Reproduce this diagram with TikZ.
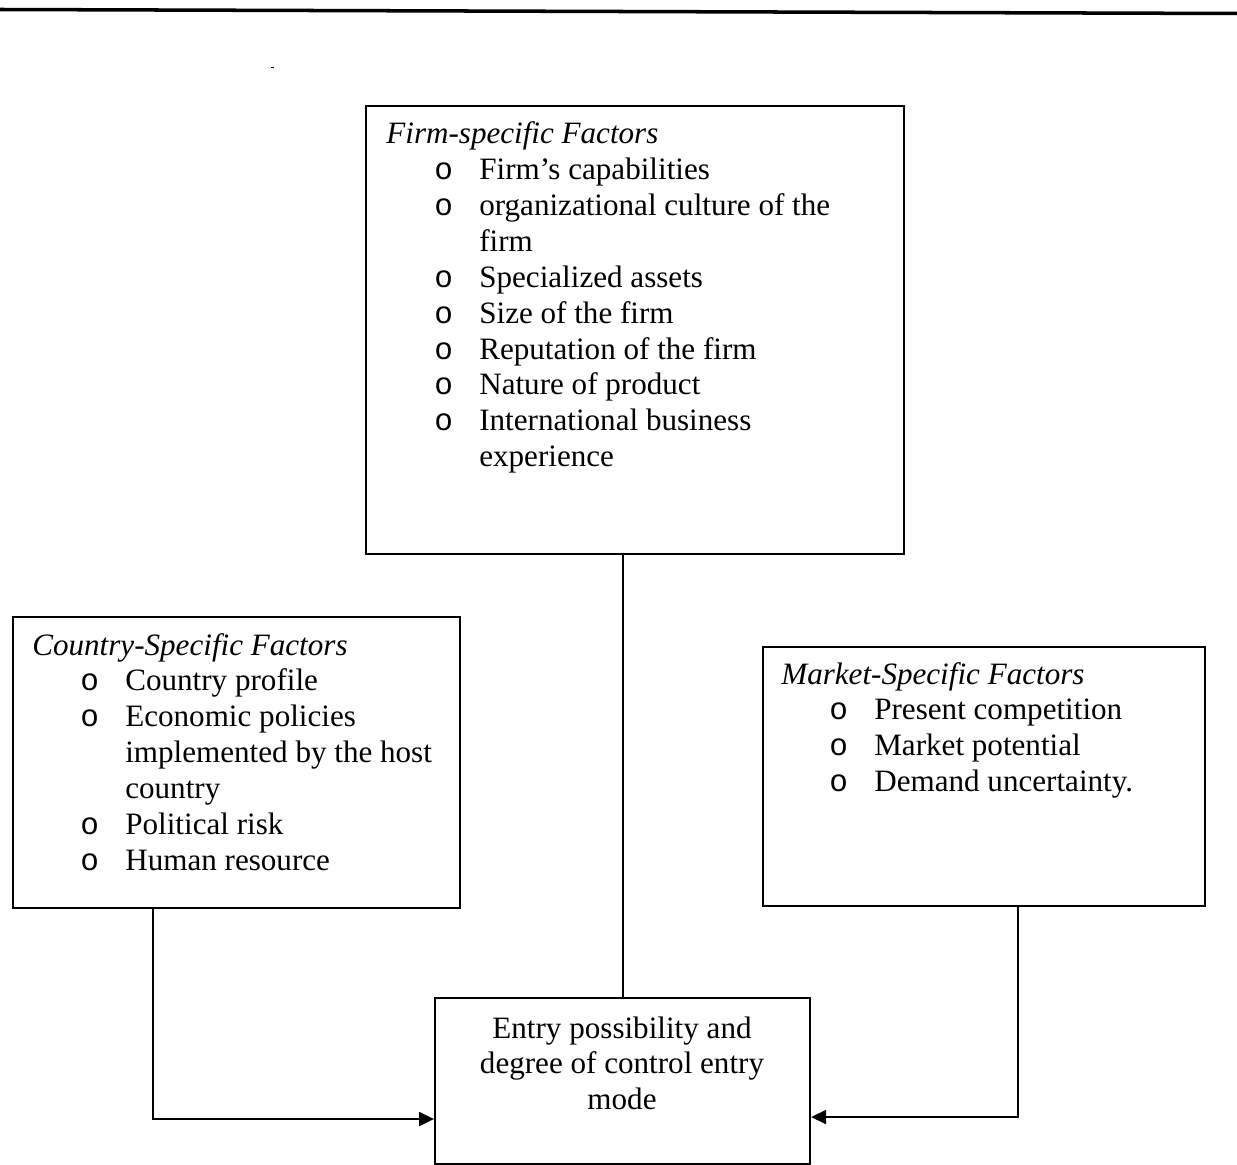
\documentclass[tikz,border=0pt]{standalone}
\usepackage{fontspec}
\setmainfont{Liberation Serif}
\newfontfamily\bulfont{Liberation Mono}
\usetikzlibrary{arrows.meta}

\newcommand{\itm}{\hspace*{0.96cm}\makebox[0.90cm][l]{\bulfont o}}
\newcommand{\cont}{\hspace*{1.86cm}}

\tikzset{
    factorbox/.style={draw, line width=1.2pt, anchor=north west, inner sep=0pt},
    factortxt/.style={anchor=base west, inner sep=0pt, font=\fontsize{17.7pt}{20.4pt}\selectfont},
    link/.style={line width=1.2pt},
    arr/.style={link, -{Triangle[length=0.3cm, width=0.28cm]}}
}

\begin{document}
\begin{tikzpicture}[x=0.02cm, y=-0.02cm]
    \useasboundingbox (0,0) rectangle (1237,1165);

    % Rule at the top
    \draw[line width=2pt] (0,9.5) -- (1237,13.5);
    \draw[line width=0.6pt] (270.5,67.5) -- (274,67.5);

    % Boxes
    \node[factorbox, minimum width={538*0.02cm}, minimum height={448*0.02cm}] (firm) at (365,105) {};
    \node[factorbox, minimum width={447*0.02cm}, minimum height={291*0.02cm}] (country) at (12,616) {};
    \node[factorbox, minimum width={442*0.02cm}, minimum height={259*0.02cm}] (market) at (762,646) {};
    \node[factorbox, minimum width={375*0.02cm}, minimum height={166*0.02cm}] (entry) at (434,997) {};

    % Texts
    \node[factortxt] (firmtxt) at (386,144) {%
        \begin{tabular}[t]{@{}l@{}}
            \textit{Firm-specific Factors}\\
            \itm Firm's capabilities\\
            \itm organizational culture of the\\
            \cont firm\\
            \itm Specialized assets\\
            \itm Size of the firm\\
            \itm Reputation of the firm\\
            \itm Nature of product\\
            \itm International business\\
            \cont experience
        \end{tabular}};

    \node[factortxt] (countrytxt) at (32,655) {%
        \begin{tabular}[t]{@{}l@{}}
            \textit{Country-Specific Factors}\\
            \itm Country profile\\
            \itm Economic policies\\
            \cont implemented by the host\\
            \cont country\\
            \itm Political risk\\
            \itm Human resource
        \end{tabular}};

    \node[factortxt] (markettxt) at (781,684) {%
        \begin{tabular}[t]{@{}l@{}}
            \textit{Market-Specific Factors}\\
            \itm Present competition\\
            \itm Market potential\\
            \itm Demand uncertainty.
        \end{tabular}};

    \node[factortxt, anchor=base] (entrytxt) at (622,1038) {%
        \begin{tabular}[t]{@{}c@{}}
            Entry possibility and\\
            degree of control entry\\
            mode
        \end{tabular}};

    % Connectors
    \draw[link] (entry.north |- firm.south) -- (entry.north);
    \draw[arr] ([xshift=2.82cm]country.south west) |- ([yshift=-0.76cm]entry.west);
    \draw[arr] ([xshift=5.12cm]market.south west) |- ([yshift=-0.72cm]entry.east);
\end{tikzpicture}
\end{document}
